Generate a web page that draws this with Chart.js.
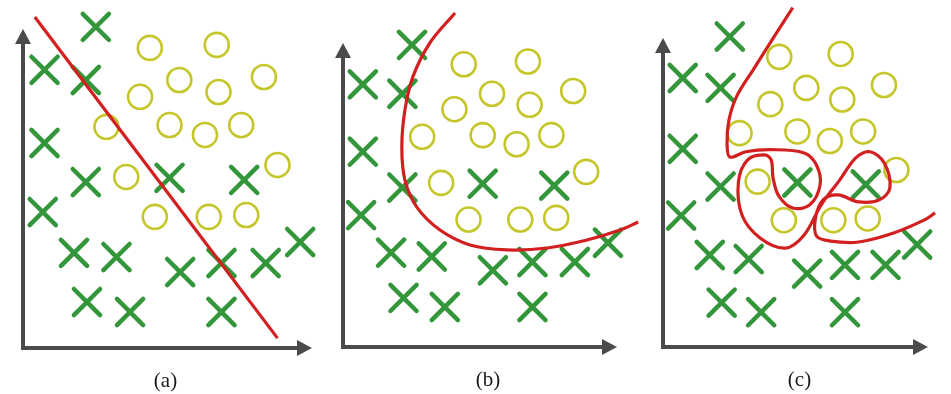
<!DOCTYPE html>
<html>
<head>
<meta charset="utf-8">
<script src="https://cdn.jsdelivr.net/npm/chart.js@4.4.0/dist/chart.umd.min.js"></script>
<style>
  html, body { margin: 0; padding: 0; background: #fff; }
  #wrap { position: relative; width: 951px; height: 394px; }
  #wrap canvas { position: absolute; left: 0; top: 0; }
</style>
</head>
<body>
<div id="wrap">
  <canvas id="panelA" width="951" height="394"></canvas>
  <canvas id="panelB" width="951" height="394"></canvas>
  <canvas id="panelC" width="951" height="394"></canvas>
</div>
<script>
// class 1 (x marks)
const crosses = [
  [2.47, 10.7], [0.73, 9.27], [2.13, 8.93], [0.73, 6.83], [2.13, 5.53],
  [4.97, 5.67], [7.5, 5.6], [0.67, 4.53], [1.73, 3.17], [3.17, 3.03],
  [5.33, 2.53], [6.73, 2.83], [8.23, 2.83], [9.4, 3.53], [2.17, 1.53],
  [3.63, 1.2], [6.73, 1.2]
];
// class 2 (circles)
const circles = [
  [4.3, 10.0], [6.57, 10.1], [5.3, 8.93], [3.97, 8.37], [6.63, 8.53],
  [8.17, 9.03], [2.83, 7.37], [4.97, 7.43], [6.17, 7.1], [7.4, 7.43],
  [3.5, 5.7], [8.63, 6.1], [4.47, 4.37], [6.3, 4.37], [7.57, 4.43]
];
// decision boundaries
const boundaryA = [[0.4, 11.03], [8.63, 0.33]];
const boundaryB = [
  [3.99, 11.86], [3.1, 10.77], [2.5, 9.54], [2.22, 8.34], [2.11, 7.0],
  [2.22, 5.8], [2.64, 4.82], [3.46, 3.99], [4.52, 3.45], [5.83, 3.27],
  [7.25, 3.34], [8.66, 3.63], [9.83, 3.99], [10.47, 4.28]
];
const boundaryC = [
  [4.8, 11.7], [4.11, 10.7], [3.34, 9.56], [2.72, 8.63], [2.44, 7.83],
  [2.37, 7.04], [2.47, 6.55], [3.06, 6.73], [4.0, 6.8], [5.22, 6.69],
  [5.67, 6.28], [5.81, 5.59], [5.43, 4.9], [4.8, 4.79], [4.28, 5.21],
  [4.07, 5.83], [4.0, 6.45], [3.76, 6.62], [3.13, 6.45], [2.79, 5.69],
  [2.92, 4.55], [3.59, 3.76], [4.53, 3.41], [5.22, 3.86], [5.85, 4.9],
  [6.54, 5.76], [7.13, 6.52], [7.66, 6.73], [8.18, 6.35], [8.39, 5.48],
  [8.0, 5.07], [7.24, 5.0], [6.47, 5.24], [5.92, 5.07], [5.64, 4.45],
  [5.68, 3.82], [6.2, 3.65], [7.24, 3.62], [8.53, 3.93], [9.67, 4.38],
  [10.06, 4.62]
];
const panelLabels = ['(a)', '(b)', '(c)'];

const toPoints = arr => arr.map(p => ({ x: p[0], y: p[1] }));

// axis lines with arrow heads, drawn along the scale edges
const arrowAxes = {
  id: 'arrowAxes',
  beforeDatasetsDraw(chart) {
    const { ctx, scales } = chart;
    const x0 = scales.x.getPixelForValue(scales.x.min);
    const x1 = scales.x.getPixelForValue(scales.x.max);
    const y0 = scales.y.getPixelForValue(scales.y.min);
    const y1 = scales.y.getPixelForValue(scales.y.max);
    const len = 15, half = 8;
    ctx.save();
    ctx.strokeStyle = '#4b4b4b';
    ctx.fillStyle = '#4b4b4b';
    ctx.lineWidth = 4;
    ctx.beginPath();
    ctx.moveTo(x0, y1 + len - 2);
    ctx.lineTo(x0, y0);
    ctx.lineTo(x1 - len + 2, y0);
    ctx.stroke();
    ctx.beginPath();
    ctx.moveTo(x0, y1);
    ctx.lineTo(x0 - half, y1 + len);
    ctx.lineTo(x0 + half, y1 + len);
    ctx.closePath();
    ctx.fill();
    ctx.beginPath();
    ctx.moveTo(x1, y0);
    ctx.lineTo(x1 - len, y0 - half);
    ctx.lineTo(x1 - len, y0 + half);
    ctx.closePath();
    ctx.fill();
    ctx.restore();
  },
  beforeDraw(chart) {
    // rounded ends on the x marks
    chart.ctx.lineCap = 'round';
  },
  afterDraw(chart, args, opts) {
    const { ctx, chartArea } = chart;
    ctx.save();
    ctx.font = '21px "Liberation Serif", serif';
    ctx.fillStyle = '#1a1a1a';
    ctx.textAlign = 'center';
    ctx.textBaseline = 'middle';
    ctx.fillText(opts.text, (chartArea.left + chartArea.right) / 2 + (opts.shift || 0), chartArea.bottom + 33);
    ctx.restore();
  }
};

function makePanel(id, label, boundary, xr, yr, padding, shift) {
  return new Chart(document.getElementById(id), {
    type: 'scatter',
    data: {
      datasets: [
        {
          data: toPoints(boundary),
          showLine: true,
          borderColor: '#d21f1f',
          borderWidth: 3.2,
          pointRadius: 0,
          tension: 0.35,
          clip: false
        },
        {
          data: toPoints(circles),
          pointStyle: 'circle',
          pointRadius: 12,
          pointBorderWidth: 2.6,
          pointBorderColor: '#c4c62a',
          pointBackgroundColor: 'rgba(0,0,0,0)',
          clip: false
        },
        {
          data: toPoints(crosses),
          pointStyle: 'crossRot',
          pointRadius: 18.5,
          pointBorderWidth: 4.5,
          pointBorderColor: '#33963a',
          clip: false
        }
      ]
    },
    options: {
      responsive: false,
      animation: false,
      events: [],
      layout: { padding },
      elements: { line: { capBezierPoints: false } },
      scales: {
        x: { type: 'linear', display: false, min: xr[0], max: xr[1] },
        y: { type: 'linear', display: false, min: yr[0], max: yr[1] }
      },
      plugins: {
        legend: { display: false },
        tooltip: { enabled: false },
        arrowAxes: { text: label, shift }
      }
    },
    plugins: [arrowAxes]
  });
}

makePanel('panelA', panelLabels[0], boundaryA, [0, 9.8], [0, 10.63],
  { left: 18, right: 639, top: 29, bottom: 46 }, -2);
makePanel('panelB', panelLabels[1], boundaryB, [0.03, 9.72], [-0.25, 10.77],
  { left: 343, right: 334, top: 43, bottom: 47 }, 8);
makePanel('panelC', panelLabels[2], boundaryC, [0, 9.8], [0, 10.65],
  { left: 663, right: 8, top: 38, bottom: 47 }, 4);
</script>
</body>
</html>
